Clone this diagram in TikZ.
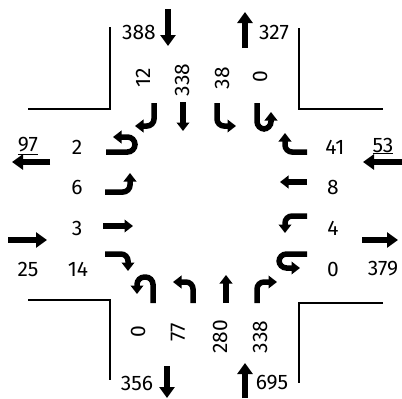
\documentclass[tikz,border=0pt]{standalone}
\usepackage{fontspec}
\setmainfont{Fira Sans}
\usetikzlibrary{arrows.meta}
\begin{document}
\begin{tikzpicture}[x=1pt,y=-1pt,
  lbl/.style={inner sep=0pt,font=\fontsize{21}{23}\selectfont},
  vlbl/.style={lbl,rotate=90},
  lane/.style={line width=5.5pt,-{Triangle[width=12.5pt,length=8.5pt]},rounded corners=7pt},
  uturn/.style={line width=5.5pt,-{Triangle[width=12.5pt,length=8.5pt]},rounded corners=7.5pt},
  flow/.style={line width=6.5pt,-{Triangle[width=15pt,length=11pt]}},
  curb/.style={line width=1.2pt}]
\useasboundingbox (0,0) rectangle (402,399);
% curbs
\draw[curb] (28,109) -- (110,109) -- (110,27);
\draw[curb] (299,28) -- (299,109) -- (383,109);
\draw[curb] (28,300) -- (110,300) -- (110,380);
\draw[curb] (383,303) -- (299,303) -- (299,383);
% flow arrows and totals
\node[lbl] (t388) at (139,32) {388};
\draw[flow] (168,9) -- (168,46);
\node[lbl] (t327) at (274,32) {327};
\draw[flow] (245,48) -- (245,12);
\node[lbl] (t356) at (137,383) {356};
\draw[flow] (167,366) -- (167,398);
\node[lbl] (t695) at (272,383) {695};
\draw[flow] (245,398) -- (245,363);
\node[lbl] (t97) at (28,146) {\underline{97}};
\draw[flow] (50,162) -- (12,162);
\node[lbl] (t25) at (28,269) {25};
\draw[flow] (8,240) -- (47,240);
\node[lbl] (t53) at (383,146) {\underline{53}};
\draw[flow] (402,162) -- (363,162);
\node[lbl] (t379) at (383,269) {379};
\draw[flow] (362,240) -- (398,240);
% top approach
\node[vlbl] (n12) at (143,78) {12};
\node[vlbl] (n338a) at (182,80) {338};
\node[vlbl] (n38) at (222,78) {38};
\node[vlbl] (n0a) at (260,77) {0};
\draw[lane] (154,103) -- (154,126) -- (135,126);
\draw[lane] (183,102) -- (183,131);
\draw[lane] (217,103) -- (217,126) -- (236,126);
\draw[uturn] (257,103) -- (257,129) -- (271,129) -- (271,112);
% bottom approach
\node[vlbl] (n0b) at (138,332) {0};
\node[vlbl] (n77) at (178,332) {77};
\node[vlbl] (n280) at (220,337) {280};
\node[vlbl] (n338b) at (260,337) {338};
\draw[uturn] (153,303) -- (153,277) -- (137,277) -- (137,294);
\draw[lane] (193,303) -- (193,282) -- (173,282);
\draw[lane] (226,303) -- (226,275);
\draw[lane] (257,303) -- (257,282) -- (277,282);
% left approach
\node[lbl] (n2) at (77,147) {2};
\node[lbl] (n6) at (77,187) {6};
\node[lbl] (n3) at (77,228) {3};
\node[lbl] (n14) at (78,269) {14};
\draw[uturn] (106,152) -- (135,152) -- (135,137) -- (113,137);
\draw[lane] (105,192) -- (130,192) -- (130,173);
\draw[lane] (103,226) -- (133,226);
\draw[lane] (105,254) -- (128,254) -- (128,271);
% right approach
\node[lbl] (n41) at (335,147) {41};
\node[lbl] (n8) at (333,187) {8};
\node[lbl] (n4) at (333,228) {4};
\node[lbl] (n0c) at (333,269) {0};
\draw[lane] (307,152) -- (285,152) -- (285,133);
\draw[lane] (307,182) -- (280,182);
\draw[lane] (307,216) -- (285,216) -- (285,233);
\draw[uturn] (307,254) -- (279,254) -- (279,268) -- (300,268);
\end{tikzpicture}
\end{document}
